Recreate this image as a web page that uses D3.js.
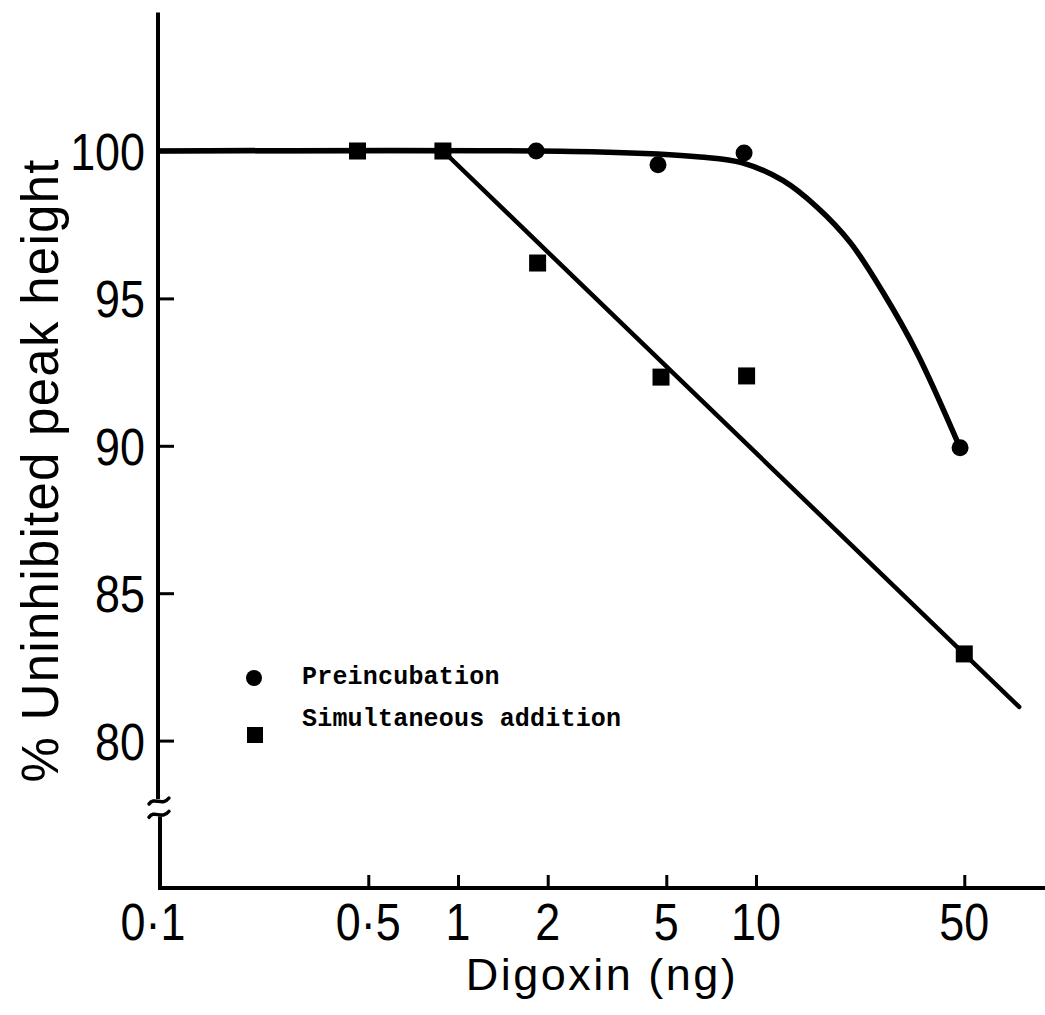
<!DOCTYPE html>
<html>
<head>
<meta charset="utf-8">
<script src="https://cdn.jsdelivr.net/npm/d3@7"></script>
<style>
  html, body { margin: 0; padding: 0; background: #fff; }
  svg { display: block; }
</style>
</head>
<body>
<div id="chart"></div>
<script>
// Digoxin dose (ng) and % uninhibited peak height, measured points
const preConc = [1.83, 4.69, 9.12, 48.4];
const preVal  = [100.0, 99.53, 99.93, 89.93];
const simConc = [0.46, 0.89, 1.85, 4.8, 9.3, 50];
const simVal  = [100, 100, 96.2, 92.33, 92.37, 82.94];

// Fitted curves drawn through each series
const preFitConc = [0.1, 3.0, 6.5, 9.0, 12.3, 16.0, 20.7, 26.7, 34.7, 48.4];
const preFitVal  = [100, 99.97, 99.8, 99.6, 99.0, 98.1, 96.9, 95.2, 93.15, 89.93];
const simFitConc = [0.1, 0.891, 76.4];
const simFitVal  = [100, 100, 81.14];

// Axis ticks and labels
const xTickVals   = [0.1, 0.5, 1, 2, 5, 10, 50];
const xTickLabels = ["0·1", "0·5", "1", "2", "5", "10", "50"];
const yTickVals   = [80, 85, 90, 95, 100];
const yBreak      = [77.95, 77.5];

const seriesNames = ["Preincubation", "Simultaneous addition"];

const W = 1045, H = 1015;
const svg = d3.select("#chart").append("svg")
  .attr("width", W).attr("height", H);
svg.append("rect").attr("width", W).attr("height", H).attr("fill", "#fff");

const x = d3.scaleLog().domain([0.1, 100]).range([160, 1054]);
const y = d3.scaleLinear().domain([75, 100]).range([888, 151]);
const yTop = 104.7;

const ink = "#000";
const numFont = "'Liberation Sans', Arial, Helvetica, sans-serif";

// ----- axes -----
const axisG = svg.append("g");

// y axis line with a break near the bottom
axisG.append("line")
  .attr("x1", x(0.1) - 2).attr("x2", x(0.1) - 2)
  .attr("y1", y(yTop)).attr("y2", y(yBreak[0]) - 2)
  .attr("stroke", ink).attr("stroke-width", 4);
axisG.append("line")
  .attr("x1", x(0.1)).attr("x2", x(0.1))
  .attr("y1", y(yBreak[1]) + 2).attr("y2", y(75) + 2)
  .attr("stroke", ink).attr("stroke-width", 4);
yBreak.forEach(v => {
  const cy = y(v), cx = x(0.1) - 1;
  axisG.append("path")
    .attr("d", `M${cx - 10},${cy + 3} C${cx - 5},${cy - 5} ${cx + 3},${cy + 6} ${cx + 10},${cy - 3}`)
    .attr("fill", "none").attr("stroke", ink).attr("stroke-width", 3.5)
    .attr("stroke-linecap", "round");
});

// x axis line
axisG.append("line")
  .attr("x1", x(0.1) - 2).attr("x2", W)
  .attr("y1", y(75)).attr("y2", y(75))
  .attr("stroke", ink).attr("stroke-width", 4);

// inward ticks
const xAxis = d3.axisBottom(x).tickValues(xTickVals.slice(1)).tickSize(-13).tickFormat("");
const gx = svg.append("g").attr("transform", `translate(0,${y(75)})`).call(xAxis);
gx.select(".domain").remove();
gx.selectAll(".tick line").attr("stroke", ink).attr("stroke-width", 3);

const yAxis = d3.axisLeft(y).tickValues(yTickVals).tickSize(-15).tickFormat("");
const gy = svg.append("g").attr("transform", `translate(${x(0.1) - 1},0)`).call(yAxis);
gy.select(".domain").remove();
gy.selectAll(".tick line").attr("stroke", ink).attr("stroke-width", 3);

// tick labels (condensed lettering)
svg.append("g").selectAll("text")
  .data(xTickVals.map((v, i) => ({ v, t: xTickLabels[i] })))
  .join("text")
  .attr("transform", d => `translate(${x(d.v) - (d.v === 0.1 ? 7 : 0)},940) scale(0.88,1)`)
  .attr("text-anchor", "middle")
  .attr("font-family", numFont).attr("font-size", 51)
  .attr("fill", ink)
  .text(d => d.t);

svg.append("g").selectAll("text")
  .data(yTickVals)
  .join("text")
  .attr("transform", d => `translate(145,${y(d) + 19}) scale(0.88,1)`)
  .attr("text-anchor", "end")
  .attr("font-family", numFont).attr("font-size", 51)
  .attr("fill", ink)
  .text(d => d);

// axis titles
svg.append("text")
  .attr("x", 602).attr("y", 990)
  .attr("text-anchor", "middle")
  .attr("font-family", numFont).attr("font-size", 45)
  .attr("letter-spacing", 2.5)
  .attr("fill", ink)
  .text("Digoxin (ng)");

svg.append("text")
  .attr("transform", "translate(58,471) rotate(-90)")
  .attr("text-anchor", "middle")
  .attr("font-family", numFont).attr("font-size", 51)
  .attr("textLength", 623).attr("lengthAdjust", "spacing")
  .attr("fill", ink)
  .text("% Uninhibited peak height");

// ----- fitted curves -----
const smooth = d3.line()
  .x(d => x(d[0])).y(d => y(d[1]))
  .curve(d3.curveCatmullRom.alpha(0.5));

svg.append("path")
  .datum(preFitConc.map((c, i) => [c, preFitVal[i]]))
  .attr("d", smooth)
  .attr("fill", "none").attr("stroke", ink).attr("stroke-width", 5.5)
  .attr("stroke-linecap", "round").attr("stroke-linejoin", "round");

svg.append("path")
  .datum(simFitConc.map((c, i) => [c, simFitVal[i]]))
  .attr("d", d3.line().x(d => x(d[0])).y(d => y(d[1])))
  .attr("fill", "none").attr("stroke", ink).attr("stroke-width", 4.5)
  .attr("stroke-linecap", "round").attr("stroke-linejoin", "round");

// ----- points -----
const sq = 17;
svg.append("g").selectAll("rect")
  .data(simConc.map((c, i) => [c, simVal[i]]))
  .join("rect")
  .attr("x", d => x(d[0]) - sq / 2).attr("y", d => y(d[1]) - sq / 2)
  .attr("width", sq).attr("height", sq)
  .attr("fill", ink);

svg.append("g").selectAll("circle")
  .data(preConc.map((c, i) => [c, preVal[i]]))
  .join("circle")
  .attr("cx", d => x(d[0])).attr("cy", d => y(d[1]))
  .attr("r", 8.5)
  .attr("fill", ink);

// ----- legend -----
const legFont = "'Courier New', 'Liberation Mono', monospace";
const leg = svg.append("g");
leg.append("circle").attr("cx", 254).attr("cy", 678).attr("r", 8).attr("fill", ink);
leg.append("rect").attr("x", 247).attr("y", 727).attr("width", 16).attr("height", 16).attr("fill", ink);
leg.selectAll("text")
  .data(seriesNames)
  .join("text")
  .attr("x", 302).attr("y", (d, i) => 684 + i * 42)
  .attr("font-family", legFont).attr("font-size", 25)
  .attr("font-weight", "bold")
  .attr("letter-spacing", 0.2)
  .attr("fill", ink)
  .text(d => d);
</script>
</body>
</html>
